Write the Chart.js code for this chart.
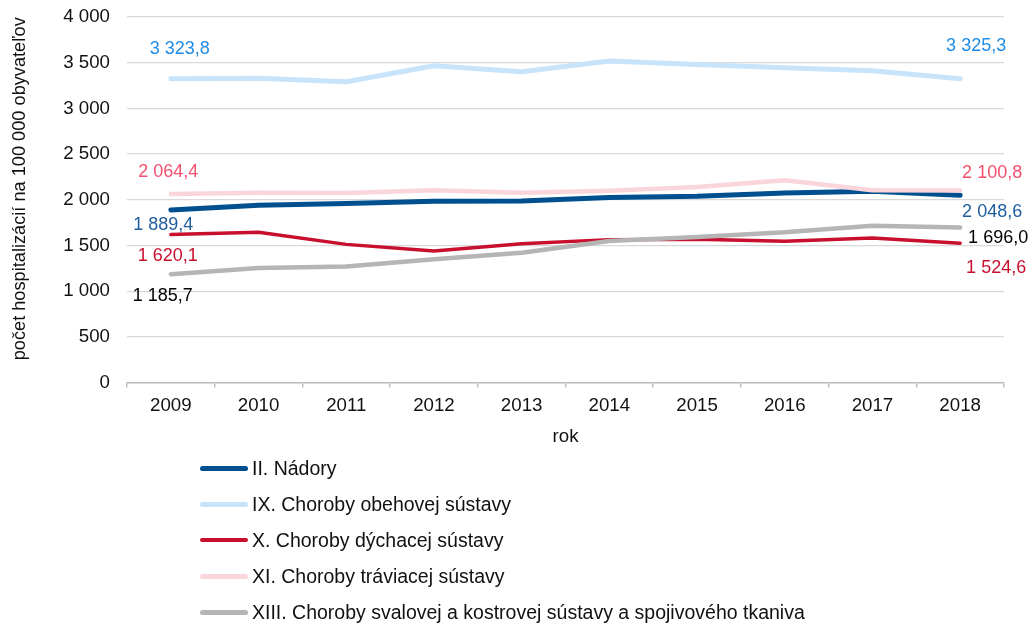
<!DOCTYPE html>
<html>
<head>
<meta charset="utf-8">
<script src="https://cdn.jsdelivr.net/npm/chart.js@4.4.1/dist/chart.umd.min.js"></script>
<style>
  html, body { margin: 0; padding: 0; background: #fff; }
  #wrap { position: relative; width: 1034px; height: 625px; }
  #c { position: absolute; left: 0; top: 0; }
  #legend { position: absolute; left: 200px; top: 450px; font-family: 'Liberation Sans', Arial, sans-serif; font-size: 19.5px; color: #111; }
  .row { display: flex; align-items: center; height: 36.1px; }
  .sw { width: 48px; border-radius: 3px; margin-right: 4px; }
</style>
</head>
<body>
<div id="wrap">
  <canvas id="c" width="1034" height="625"></canvas>
  <div id="legend"></div>
</div>
<script>
const years = ['2009','2010','2011','2012','2013','2014','2015','2016','2017','2018'];
const seriesNames = [
  'II. Nádory',
  'IX. Choroby obehovej sústavy',
  'X. Choroby dýchacej sústavy',
  'XI. Choroby tráviacej sústavy',
  'XIII. Choroby svalovej a kostrovej sústavy a spojivového tkaniva'
];
const nadory   = [1889.4, 1940, 1958, 1984, 1987, 2024, 2038, 2075, 2093, 2048.6];
const obehova  = [3323.8, 3330, 3291, 3466, 3401, 3518, 3481, 3444, 3411, 3325.3];
const dychacia = [1620.1, 1644, 1512, 1439, 1519, 1564, 1567, 1545, 1582, 1524.6];
const traviaca = [2064.4, 2078, 2075, 2104, 2078, 2100, 2141, 2214, 2104, 2100.8];
const svalova  = [1185.7, 1253, 1271, 1348, 1421, 1548, 1593, 1644, 1717, 1696.0];
const yTicks = [0, 500, 1000, 1500, 2000, 2500, 3000, 3500, 4000];
const yTitle = 'počet hospitalizácií na 100 000 obyvateľov';
const xTitle = 'rok';

const FONT = "'Liberation Sans', Arial, sans-serif";
const lineColors = ['#004f8f', '#c8e4fb', '#c8102e', '#fbd5dc', '#b5b5b5'];
const labelColors = ['#1f5e9e', '#1f8ce6', '#c8102e', '#f2506e', '#000000'];
const lineWidths = [5, 5, 3.5, 4.5, 4.5];
// label offsets [first point [dx,dy], last point [dx,dy]]
const labelOffsets = [
  [[-7.5, 14.7], [32, 16.6]],
  [[9, -29.7], [16, -32.6]],
  [[-3, 21.5], [36, 24.4]],
  [[-2.5, -22], [32, -17.6]],
  [[-8, 22], [38, 10]]
];

function fmtNum(v, dec) {
  let s = dec ? v.toFixed(dec) : String(Math.round(v));
  let parts = s.split('.');
  parts[0] = parts[0].replace(/\B(?=(\d{3})+(?!\d))/g, ' ');
  return parts.join(',');
}

const allSeries = [nadory, obehova, dychacia, traviaca, svalova];
const datasets = allSeries.map((d, i) => ({
  label: seriesNames[i],
  data: d,
  borderColor: lineColors[i],
  backgroundColor: lineColors[i],
  borderWidth: lineWidths[i],
  pointRadius: 0,
  pointHoverRadius: 0,
  tension: 0,
  fill: false,
  borderCapStyle: 'round',
  borderJoinStyle: 'round',
  order: allSeries.length - i
}));

const endLabels = {
  id: 'endLabels',
  afterDatasetsDraw(chart) {
    const ctx = chart.ctx;
    ctx.save();
    ctx.font = '18px ' + FONT;
    ctx.textAlign = 'center';
    ctx.textBaseline = 'middle';
    chart.data.datasets.forEach((ds, i) => {
      const meta = chart.getDatasetMeta(i);
      const idxs = [0, ds.data.length - 1];
      idxs.forEach((idx, k) => {
        const el = meta.data[idx];
        const off = labelOffsets[i][k];
        ctx.fillStyle = labelColors[i];
        ctx.fillText(fmtNum(ds.data[idx], 1), el.x + off[0], el.y + off[1]);
      });
    });
    ctx.restore();
  }
};

const axisTitles = {
  id: 'axisTitles',
  afterDraw(chart) {
    const ctx = chart.ctx;
    const ca = chart.chartArea;
    ctx.save();
    ctx.fillStyle = '#111';
    ctx.textAlign = 'center';
    ctx.textBaseline = 'middle';
    ctx.font = '18.7px ' + FONT;
    ctx.fillText(xTitle, (ca.left + ca.right) / 2, ca.bottom + 54);
    ctx.font = '18.2px ' + FONT;
    ctx.translate(20, (ca.top + ca.bottom) / 2 - 11);
    ctx.rotate(-Math.PI / 2);
    ctx.fillText(yTitle, 0, 0);
    ctx.restore();
  }
};

const chart = new Chart(document.getElementById('c'), {
  type: 'line',
  data: { labels: years, datasets },
  options: {
    responsive: false,
    animation: false,
    events: [],
    layout: { padding: { top: 17, right: 30, bottom: 201, left: 0 } },
    plugins: { legend: { display: false }, tooltip: { enabled: false } },
    scales: {
      x: {
        offset: true,
        grid: { display: true, drawOnChartArea: false, drawTicks: true, tickLength: 5, offset: true, color: '#bfbfbf', lineWidth: 1.5 },
        border: { display: true, color: '#bfbfbf', width: 1.5 },
        ticks: { color: '#111', font: { family: FONT, size: 18.7 }, padding: 7, maxRotation: 0 },
      },
      y: {
        min: 0, max: 4000,
        afterBuildTicks(scale) { scale.ticks = yTicks.map(v => ({ value: v })); },
        afterFit(scale) { scale.width = 127; scale.paddingTop = 0; scale.paddingBottom = 0; },
        grid: { color: '#d9d9d9', lineWidth: 1.2, drawTicks: false },
        border: { display: false },
        ticks: { color: '#111', font: { family: FONT, size: 18.7 }, padding: 17, callback: v => fmtNum(v, 0) }
      }
    }
  },
  plugins: [endLabels, axisTitles]
});

const legend = document.getElementById('legend');
chart.data.datasets.forEach((ds, i) => {
  const row = document.createElement('div');
  row.className = 'row';
  const sw = document.createElement('span');
  sw.className = 'sw';
  sw.style.height = lineWidths[i] + 'px';
  sw.style.background = ds.borderColor;
  const t = document.createElement('span');
  t.textContent = ds.label;
  row.appendChild(sw);
  row.appendChild(t);
  legend.appendChild(row);
});
</script>
</body>
</html>
